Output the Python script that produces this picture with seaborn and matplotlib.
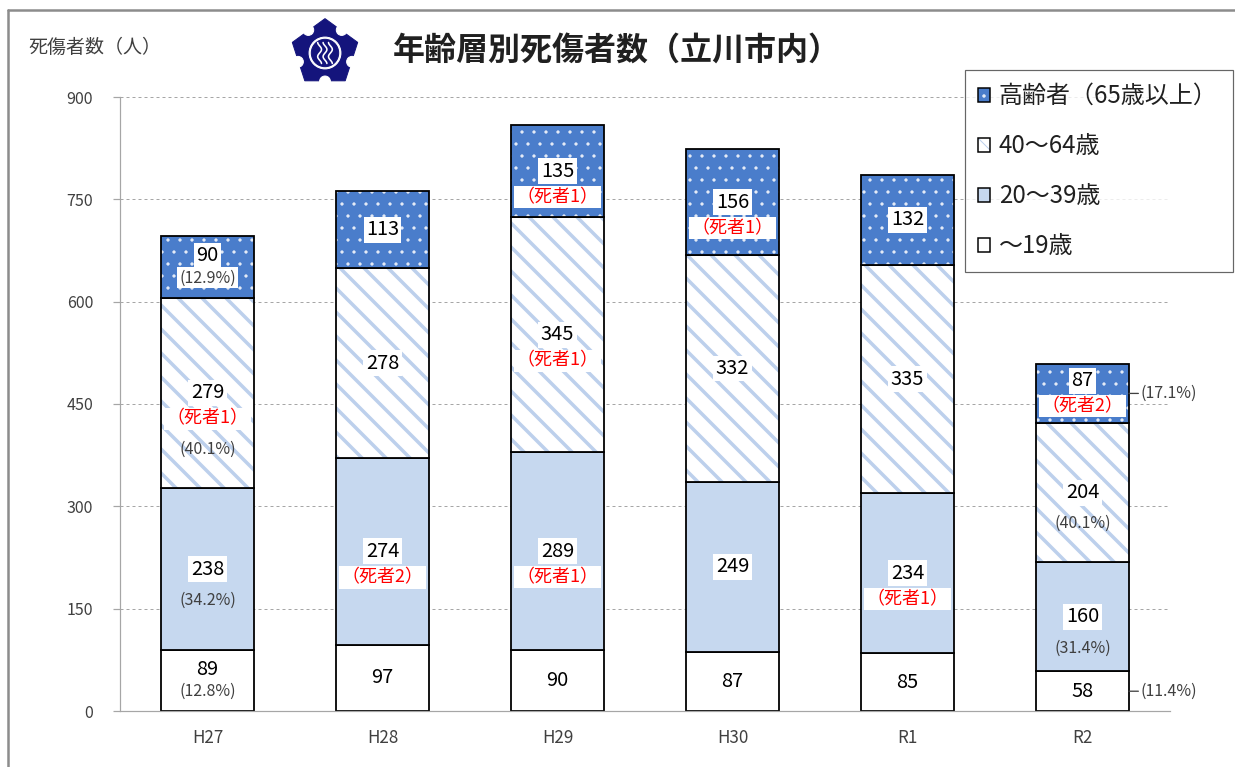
"""
年齢層別死傷者数（立川市内）の積み上げ棒グラフ
"""

import numpy as np
import matplotlib
matplotlib.use("Agg")
import matplotlib.pyplot as plt
from matplotlib.lines import Line2D
from matplotlib.patches import Patch, RegularPolygon, Circle
from matplotlib.legend_handler import HandlerTuple
import seaborn as sns

# ── データ ───────────────────────────────────────────────
years = ["H27", "H28", "H29", "H30", "R1", "R2"]

under19 = [89, 97, 90, 87, 85, 58]
age20_39 = [238, 274, 289, 249, 234, 160]
age40_64 = [279, 278, 345, 332, 335, 204]
elderly = [90, 113, 135, 156, 132, 87]

# 死者数（0 は表示しない）
deaths_19 = [0, 0, 0, 0, 0, 0]
deaths_20 = [0, 2, 1, 0, 1, 0]
deaths_40 = [1, 0, 1, 0, 0, 0]
deaths_65 = [0, 0, 1, 1, 0, 2]

# 構成比（棒の中）
pct_19 = ["12.8%", "", "", "", "", ""]
pct_20 = ["34.2%", "", "", "", "", "31.4%"]
pct_40 = ["40.1%", "", "", "", "", "40.1%"]
pct_65 = ["12.9%", "", "", "", "", ""]

# 構成比（棒の右外側）
pct_out_19 = ["", "", "", "", "", "11.4%"]
pct_out_65 = ["", "", "", "", "", "17.1%"]

yticks = [0, 150, 300, 450, 600, 750, 900]

# ── スタイル ─────────────────────────────────────────────
sns.set_theme(style="white")
plt.rcParams["font.family"] = ["Noto Sans CJK JP", "DejaVu Sans"]

W, H, DPI = 1235, 767, 72
GRAY = "#404040"
BAR_W = 0.53

fig = plt.figure(figsize=(W / DPI, H / DPI), dpi=DPI)
ax = fig.add_axes([120 / W, 56 / H, 1050 / W, 614 / H])

layers = [
    dict(vals=under19, deaths=deaths_19, pct=pct_19, out=pct_out_19,
         color="white", hatch=None, hcolor="white", hlw=1.0, label="～19歳"),
    dict(vals=age20_39, deaths=deaths_20, pct=pct_20, out=None,
         color="#C6D8EF", hatch=None, hcolor="#C6D8EF", hlw=1.0, label="20～39歳"),
    dict(vals=age40_64, deaths=deaths_40, pct=pct_40, out=None,
         color="white", hatch="\\", hcolor="#BDD0EC", hlw=3.5, label="40～64歳"),
    dict(vals=elderly, deaths=deaths_65, pct=pct_65, out=pct_out_65,
         color="#4A7DCB", hatch=".", hcolor="#E8EEF8", hlw=0.8, label="高齢者（65歳以上）"),
]

bottom = np.zeros(len(years))
handles = []
for L in layers:
    with plt.rc_context({"hatch.linewidth": L["hlw"]}):
        sns.barplot(x=years, y=L["vals"], bottom=bottom, color=L["color"],
                    saturation=1, width=BAR_W, hatch=L["hatch"],
                    edgecolor=L["hcolor"], linewidth=0, errorbar=None, ax=ax)
        h_fill = Patch(facecolor=L["color"], hatch=L["hatch"],
                       edgecolor=L["hcolor"], linewidth=0)
    sns.barplot(x=years, y=L["vals"], bottom=bottom, color="black", fill=False,
                width=BAR_W, linewidth=1.8, errorbar=None, ax=ax)
    h_edge = Patch(facecolor="none", edgecolor="black", linewidth=1.5)
    handles.append((h_fill, h_edge))

    # ラベル
    vals = np.array(L["vals"])
    for i, v in enumerate(vals):
        mid = bottom[i] + v / 2
        small = v < 100
        lines = [(str(v), dict(fontsize=20, color="black"), True, 0)]
        if L["deaths"][i]:
            lines.append((f"（死者{L['deaths'][i]}）",
                          dict(fontsize=18, color="#FF0000"), True, 25 if small else 26))
        if L["pct"][i]:
            lines.append((f"({L['pct'][i]})",
                          dict(fontsize=16, color=GRAY), small, 22 if small else 31))
        offs = np.cumsum([ln[3] for ln in lines])
        shift = offs[-1] / 2 if small else 0
        for (txt, kw, boxed, _), off in zip(lines, offs):
            bbox = dict(boxstyle="square,pad=0.12", fc="white", ec="none") if boxed else None
            ax.annotate(txt, xy=(i, mid), xytext=(0, shift - off),
                        textcoords="offset points", ha="center", va="center",
                        bbox=bbox, zorder=5, **kw)
        if L["out"] and L["out"][i]:
            ax.annotate(f"({L['out'][i]})", xy=(i + BAR_W / 2, mid), xytext=(12, 0),
                        textcoords="offset points", ha="left", va="center",
                        fontsize=16, color=GRAY,
                        arrowprops=dict(arrowstyle="-", color=GRAY, lw=1.3,
                                        shrinkA=0, shrinkB=0))
    bottom = bottom + vals

# ── 軸 ───────────────────────────────────────────────────
ax.set_xlim(-0.5, len(years) - 0.5)
ax.set_ylim(0, 900)
ax.set_yticks(yticks)
ax.set_yticklabels([str(t) for t in yticks])
ax.set_xlabel("")
ax.set_ylabel("")
ax.yaxis.grid(True, color="#A6A6A6", linestyle=(0, (3, 3)), linewidth=1)
ax.set_axisbelow(True)
for side in ["top", "right"]:
    ax.spines[side].set_visible(False)
for side in ["left", "bottom"]:
    ax.spines[side].set_color("#A6A6A6")
    ax.spines[side].set_linewidth(1.2)
ax.tick_params(axis="y", left=True, length=7, width=1.2, color="#A6A6A6",
               labelsize=16, labelcolor=GRAY, pad=20)
ax.tick_params(axis="x", bottom=False, labelsize=17, labelcolor=GRAY, pad=12)

# ── 凡例 ─────────────────────────────────────────────────
leg = fig.legend(handles[::-1], [L["label"] for L in layers[::-1]],
                 handler_map={tuple: HandlerTuple(ndivide=1, pad=0)},
                 loc="upper left", bbox_to_anchor=(965 / W, 1 - 263 / H, 268 / W, 193 / H),
                 mode="expand", fontsize=24, frameon=True, fancybox=False,
                 handlelength=0.5, handleheight=0.5, handletextpad=0.35,
                 labelspacing=1.0, borderpad=0.55, borderaxespad=0)
leg.get_frame().set_edgecolor("#404040")
leg.get_frame().set_linewidth(1.2)
for t in leg.get_texts():
    t.set_color("#202020")

# ── タイトル・単位 ───────────────────────────────────────
fig.text(393 / W, 1 - 50 / H, "年齢層別死傷者数（立川市内）", fontsize=32,
         weight="bold", color="#202020", va="center", ha="left")
fig.text(28 / W, 1 - 47 / H, "死傷者数（人）", fontsize=19, color=GRAY,
         va="center", ha="left")

# ── 市章（簡略） ─────────────────────────────────────────
NAVY = "#14147C"
lax = fig.add_axes([290 / W, 1 - 88 / H, 70 / W, 70 / H])
lax.set_xlim(-1.1, 1.1)
lax.set_ylim(-1.1, 1.1)
lax.set_aspect("equal")
lax.axis("off")
R = 1.08
lax.add_patch(RegularPolygon((0, 0), 5, radius=R, color=NAVY))
for k in range(5):
    a = np.deg2rad(90 + 36 + 72 * k)
    r = R * np.cos(np.deg2rad(36)) + 0.02
    lax.add_patch(Circle((r * np.cos(a), r * np.sin(a)), 0.17, color="white"))
lax.add_patch(Circle((0, 0), 0.5, color="white"))
lax.add_patch(Circle((0, 0), 0.43, color=NAVY))
yy = np.linspace(-0.33, 0.33, 40)
for x0 in (-0.17, 0, 0.17):
    lax.plot(x0 + 0.06 * np.sin(yy * 14), yy, color="white", lw=1.6)

# ── 外枠 ─────────────────────────────────────────────────
fig.add_artist(Line2D([8 / W, 8 / W], [0, 1 - 10 / H], color="#8C8C8C", lw=2.5,
                      transform=fig.transFigure))
fig.add_artist(Line2D([8 / W, 1], [1 - 10 / H, 1 - 10 / H], color="#8C8C8C", lw=2.5,
                      transform=fig.transFigure))

fig.savefig("out.png", dpi=DPI)
